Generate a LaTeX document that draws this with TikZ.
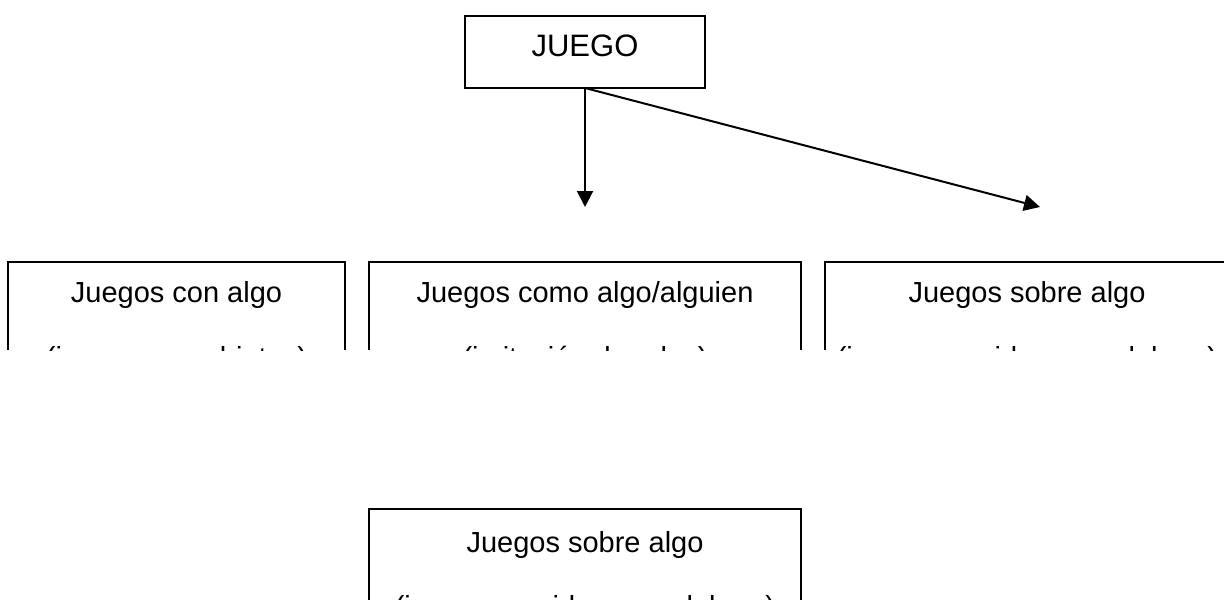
\documentclass[tikz,border=0pt]{standalone}
\usepackage{fontspec}
\setmainfont{Liberation Sans}
\usetikzlibrary{arrows.meta}
\tikzset{
  caja/.style={inner sep=0pt, outer sep=0pt},
  linea/.style={line width=1pt},
  flecha/.style={line width=1pt, -{Triangle[length=8pt,width=8pt]}},
  texto/.style={font=\fontsize{14.5}{16}\selectfont, anchor=base, inner sep=0pt},
}
\begin{document}
\begin{tikzpicture}[x=0.5pt,y=-0.5pt]
\useasboundingbox (0,0) rectangle (1224,599);
\clip (0,0) rectangle (1224,599);
%
\node(juego) [caja, draw, line width=1pt, minimum width=120pt, minimum height=36pt] at (585,52) {};
\node(juegotxt) [texto, font=\fontsize{15.5}{17}\selectfont] at (585,57) {JUEGO};
%
\coordinate(p1) at (585,207);
\coordinate(p2) at (1040,207);
\draw[flecha](juego.south) -- (p1);
\draw[flecha](juego.south) -- (p2);
%
\node(con) [caja, minimum width=168.5pt, minimum height=44pt] at (176.5,306) {};
\draw[linea](con.south west) |- (con.north) -| (con.south east);
\begin{scope}
\clip (con.south west) rectangle (con.north east);
\node(con1) [texto] at (176.5,302) {Juegos con algo};
\node(con2) [texto] at (176.5,367) {(juegos con objetos)};
\end{scope}
%
\node(como) [caja, minimum width=216pt, minimum height=44pt] at (585,306) {};
\draw[linea](como.south west) |- (como.north) -| (como.south east);
\begin{scope}
\clip (como.south west) rectangle (como.north east);
\node(como1) [texto] at (585,302) {Juegos como algo/alguien};
\node(como2) [texto] at (585,367) {(imitación de roles)};
\end{scope}
%
\node(sobre) [caja, minimum width=202pt, minimum height=44pt] at (1027,306) {};
\draw[linea](sobre.south west) |- (sobre.north) -| (sobre.south east);
\begin{scope}
\clip (sobre.south west) rectangle (sobre.north east);
\node(sobre1) [texto] at (1027,302) {Juegos sobre algo};
\node(sobre2) [texto] at (1027,367) {(juegos con ideas o palabras)};
\end{scope}
%
\node(sobreb) [caja, minimum width=216pt, minimum height=60pt] at (585,569) {};
\draw[linea](sobreb.south west) |- (sobreb.north) -| (sobreb.south east);
\begin{scope}
\clip (sobreb.south west) rectangle (sobreb.north east);
\node(sobreb1) [texto] at (585,552) {Juegos sobre algo};
\node(sobreb2) [texto] at (585,616) {(juegos con ideas o palabras)};
\end{scope}
\end{tikzpicture}
\end{document}
